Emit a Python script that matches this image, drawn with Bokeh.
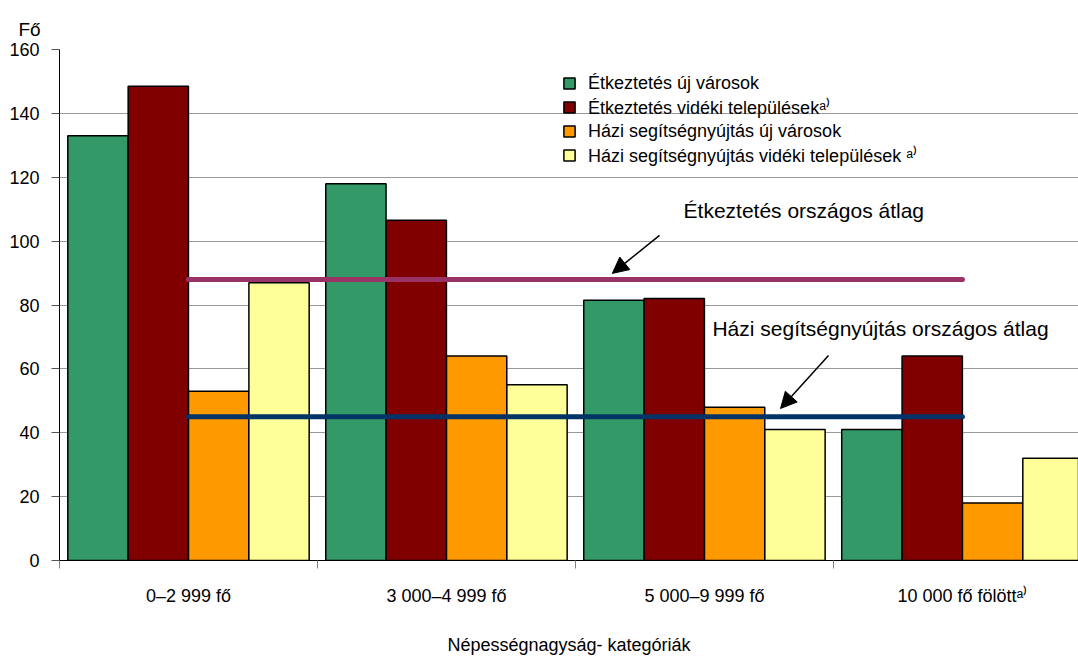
from bokeh.plotting import figure
from bokeh.models import (ColumnDataSource, Range1d, FixedTicker, Legend, LegendItem,
                          Label, Arrow, NormalHead, Title)
from bokeh.transform import dodge
from bokeh.embed import file_html
from bokeh.resources import INLINE

# ---- data ----
categories = ["0–2 999 fő", "3 000–4 999 fő", "5 000–9 999 fő", "10 000 fő fölött\u1d43\u207e"]
etk_uj = [133, 118, 81.5, 41]
etk_videki = [148.5, 106.5, 82, 64]
hazi_uj = [53, 64, 48, 18]
hazi_videki = [87, 55, 41, 32]
series_names = ["Étkeztetés új városok",
                "Étkeztetés vidéki települések\u1d43\u207e",
                "Házi segítségnyújtás új városok",
                "Házi segítségnyújtás vidéki települések \u1d43\u207e"]
series_colors = ["#339966", "#800000", "#FF9900", "#FFFF99"]
etk_avg = 88
hazi_avg = 45
y_ticks = [0, 20, 40, 60, 80, 100, 120, 140, 160]

FONT = "Liberation Sans"

src = ColumnDataSource(dict(
    x=[i + 0.5 for i in range(len(categories))],
    etk_uj=etk_uj, etk_videki=etk_videki, hazi_uj=hazi_uj, hazi_videki=hazi_videki,
))

p = figure(width=1078, height=657, x_range=Range1d(0, 3.95), y_range=Range1d(0, 160),
           output_backend="svg", toolbar_location=None,
           min_border_left=59, min_border_right=0, min_border_top=49, min_border_bottom=97)
p.outline_line_color = None
p.xgrid.visible = False
p.ygrid.grid_line_color = "#999999"
p.ygrid.grid_line_width = 1
p.ygrid.ticker = FixedTicker(ticks=y_ticks)

# "Fő" unit title
p.add_layout(Title(text="Fő", align="left", offset=-41, standoff=19, text_font=FONT,
                   text_font_size="19px", text_font_style="normal", text_color="black"), "above")

# y axis
p.yaxis.ticker = FixedTicker(ticks=y_ticks)
p.yaxis.major_tick_in = 0
p.yaxis.major_tick_out = 8
p.yaxis.minor_tick_out = 0
p.yaxis.minor_tick_in = 0
p.yaxis.major_label_standoff = 12
p.yaxis.axis_line_color = "black"
p.yaxis.major_tick_line_color = "#555555"
p.yaxis.major_label_text_font = FONT
p.yaxis.major_label_text_font_size = "18px"
p.yaxis.major_label_text_color = "black"

# x axis
p.xaxis.ticker = FixedTicker(ticks=[i + 0.5 for i in range(len(categories))],
                             minor_ticks=list(range(len(categories) + 1)))
p.xaxis.major_label_overrides = {i + 0.5: c for i, c in enumerate(categories)}
p.xaxis.major_tick_in = 0
p.xaxis.major_tick_out = 0
p.xaxis.minor_tick_in = 0
p.xaxis.minor_tick_out = 8
p.xaxis.minor_tick_line_color = "#808080"
p.xaxis.axis_line_color = "black"
p.xaxis.major_label_standoff = 17
p.xaxis.major_label_text_font = FONT
p.xaxis.major_label_text_font_size = "18px"
p.xaxis.major_label_text_color = "black"
p.xaxis.axis_label = "Népességnagyság- kategóriák"
p.xaxis.axis_label_text_font = FONT
p.xaxis.axis_label_text_font_size = "18px"
p.xaxis.axis_label_text_font_style = "normal"
p.xaxis.axis_label_text_color = "black"
p.xaxis.axis_label_standoff = 26

# bars
bw = 0.2337
offsets = [-0.351, -0.117, 0.117, 0.351]
fields = ["etk_uj", "etk_videki", "hazi_uj", "hazi_videki"]
renderers = []
for f, off, col in zip(fields, offsets, series_colors):
    r = p.vbar(x=dodge("x", off, range=p.x_range), top=f, width=bw, source=src,
               fill_color=col, line_color="black", line_width=1.5)
    renderers.append(r)

# average lines
n = len(categories)
p.line(x=[0.5, n - 0.5], y=[etk_avg, etk_avg], line_color="#993366", line_width=5, line_cap="round")
p.line(x=[0.5, n - 0.5], y=[hazi_avg, hazi_avg], line_color="#003366", line_width=5, line_cap="round")

# legend
legend = Legend(items=[LegendItem(label=nm, renderers=[r]) for nm, r in zip(series_names, renderers)],
                location=(503, 393), orientation="vertical",
                glyph_width=14, glyph_height=14, label_standoff=12, spacing=0,
                padding=0, margin=0, border_line_color=None, background_fill_alpha=0,
                label_text_font=FONT, label_text_font_size="18px", label_height=24,
                label_text_color="black")
p.add_layout(legend)

# annotations
p.add_layout(Label(x=2.419, y=109.6, text="Étkeztetés országos átlag", text_font=FONT,
                   text_font_size="21px", text_baseline="middle", text_color="black"))
p.add_layout(Label(x=2.531, y=72.7, text="Házi segítségnyújtás országos átlag", text_font=FONT,
                   text_font_size="21px", text_baseline="middle", text_color="black"))
p.add_layout(Arrow(end=NormalHead(size=16, fill_color="black", line_color="black"),
                   x_start=2.326, y_start=101.8, x_end=2.143, y_end=89.9,
                   line_width=1.5, line_color="black"))
p.add_layout(Arrow(end=NormalHead(size=16, fill_color="black", line_color="black"),
                   x_start=2.981, y_start=64.2, x_end=2.795, y_end=47.6,
                   line_width=1.5, line_color="black"))

open("out.html", "w").write(file_html(p, INLINE))
